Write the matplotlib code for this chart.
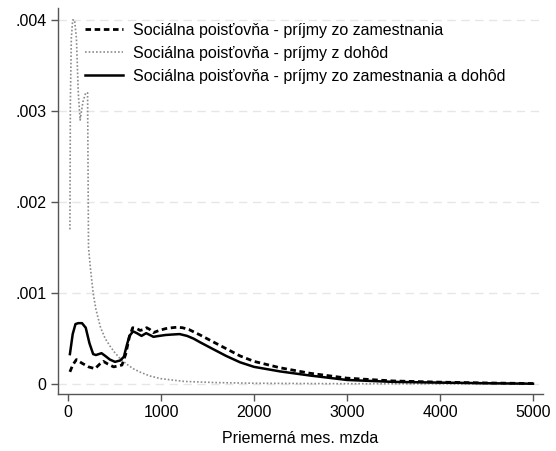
import matplotlib
matplotlib.use("Agg")
import matplotlib.pyplot as plt

plt.rcParams['font.family'] = ['Liberation Sans', 'DejaVu Sans']

# Sociálna poisťovňa - príjmy zo zamestnania (dashed)
x_zam = [20, 50, 90, 150, 220, 290, 340, 380, 430, 490, 540, 580, 620, 660, 695, 740, 775, 810, 846, 880, 918, 980, 1050, 1120, 1170, 1230, 1300, 1420, 1550, 1700, 1850, 2000, 2280, 2600, 3000, 3500, 4000, 4500, 5000]
y_zam = [0.000135, 0.00021, 0.00027, 0.00023, 0.00019, 0.00017, 0.00022, 0.00025, 0.00022, 0.00019, 0.0002, 0.00021, 0.00033, 0.00052, 0.00062, 0.00061, 0.00059, 0.0006, 0.00062, 0.0006, 0.000566, 0.00059, 0.00061, 0.00062, 0.000625, 0.00062, 0.0006, 0.00054, 0.00047, 0.00039, 0.00031, 0.00025, 0.00018, 0.00012, 0.000066, 0.000035, 0.000022, 0.000013, 0.000007]

# Sociálna poisťovňa - príjmy z dohôd (dotted)
x_doh = [20, 25, 35, 50, 70, 90, 110, 130, 160, 190, 210, 220, 240, 270, 300, 350, 400, 450, 500, 560, 630, 700, 780, 880, 1000, 1250, 1600, 2000, 2500, 3000, 4000, 5000]
y_doh = [0.0017, 0.0031, 0.0038, 0.0040, 0.0040, 0.0038, 0.0032, 0.0029, 0.0031, 0.0032, 0.0032, 0.0015, 0.00128, 0.001, 0.00082, 0.00062, 0.0005, 0.00042, 0.00035, 0.00028, 0.00022, 0.00017, 0.00013, 0.00009, 0.00006, 0.00003, 0.000017, 0.00001, 0.000007, 0.000005, 0.000004, 0.000003]

# Sociálna poisťovňa - príjmy zo zamestnania a dohôd (solid)
x_spolu = [20, 50, 80, 110, 150, 190, 230, 270, 300, 330, 360, 400, 450, 505, 560, 600, 630, 660, 700, 740, 790, 840, 880, 918, 980, 1050, 1120, 1200, 1280, 1350, 1420, 1550, 1700, 1850, 2000, 2280, 2600, 3000, 3500, 4000, 4500, 5000]
y_spolu = [0.00033, 0.00055, 0.00066, 0.00067, 0.00067, 0.00062, 0.00045, 0.00033, 0.00032, 0.00033, 0.00034, 0.00031, 0.00027, 0.000245, 0.00026, 0.0003, 0.00042, 0.00053, 0.00058, 0.00056, 0.00053, 0.00056, 0.00054, 0.00052, 0.00053, 0.00054, 0.000545, 0.00055, 0.00053, 0.0005, 0.00046, 0.00039, 0.00031, 0.00024, 0.00019, 0.00014, 0.000095, 0.000046, 0.000025, 0.000017, 0.00001, 0.000005]

labels = [
    "Sociálna poisťovňa - príjmy zo zamestnania",
    "Sociálna poisťovňa - príjmy z dohôd",
    "Sociálna poisťovňa - príjmy zo zamestnania a dohôd",
]
x_ticks = [0, 1000, 2000, 3000, 4000, 5000]
y_ticks = [0, 0.001, 0.002, 0.003, 0.004]
y_ticklabels = ["0", ".001", ".002", ".003", ".004"]
x_label = "Priemerná mes. mzda"

fs = 11.5
fig = plt.figure(figsize=(5.56, 4.51), dpi=100)
ax = fig.add_axes([0.104, 0.126, 0.873, 0.856])

ax.plot(x_zam, y_zam, color="black", lw=2.0, linestyle=(0, (2.0, 1.3)), label=labels[0])
ax.plot(x_doh, y_doh, color="#8c8c8c", lw=1.2, linestyle=(0, (1, 1.2)), label=labels[1])
ax.plot(x_spolu, y_spolu, color="black", lw=1.8, linestyle="-", label=labels[2])

ax.set_xlim(-110, 5110)
ax.set_ylim(-0.00011, 0.00413)
ax.set_xticks(x_ticks)
ax.set_xticklabels([str(t) for t in x_ticks])
ax.set_yticks(y_ticks)
ax.set_yticklabels(y_ticklabels)
ax.tick_params(axis="both", labelsize=fs, length=5, width=1, color="#555555", direction="out", pad=3)
ax.set_xlabel(x_label, fontsize=fs, labelpad=8)

ax.yaxis.grid(True, color="#e6e6e6", linestyle=(0, (6, 4)), lw=1)
ax.set_axisbelow(True)
for s in ["top", "right"]:
    ax.spines[s].set_visible(False)
for s in ["left", "bottom"]:
    ax.spines[s].set_color("#555555")
    ax.spines[s].set_linewidth(1)

leg = ax.legend(loc="upper left", bbox_to_anchor=(0.043, 0.978), frameon=False, fontsize=fs,
                handlelength=2.4, handletextpad=0.6, labelspacing=0.5, borderaxespad=0.0)

fig.savefig("out.png", dpi=100)
